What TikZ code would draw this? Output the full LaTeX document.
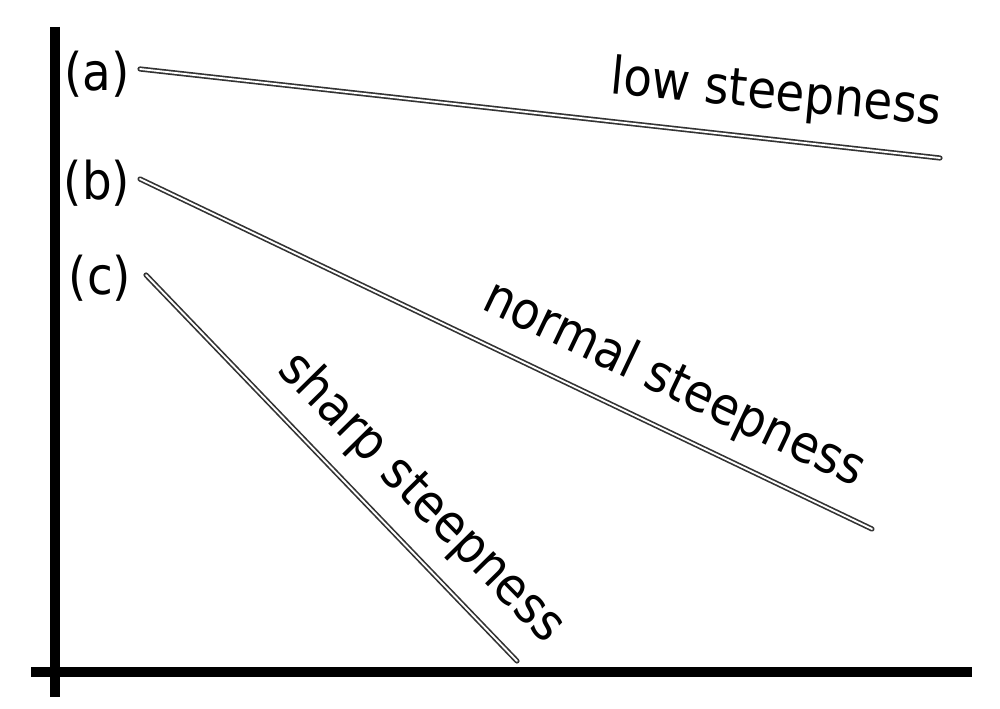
\documentclass[tikz,border=0pt]{standalone}
\usepackage{fontspec}
\setmainfont{DejaVu Sans Condensed}
\begin{document}
\begin{tikzpicture}[x=0.75pt,y=-0.75pt,
  axis/.style={line width=7pt,black},
  slope/.style={draw=black!80,line width=1.25pt,double=white,double distance=1.4pt,line cap=round},
  lbl/.style={inner sep=0pt,font=\fontsize{39}{47}\selectfont}]
\useasboundingbox[fill=white] (0,0) rectangle (1000,709);
% axes
\coordinate (yt) at (55,27);
\coordinate (yb) at (55,697);
\coordinate (xl) at (31,672);
\coordinate (xr) at (972,672);
\draw[axis] (yt) -- (yb);
\draw[axis,line cap=butt] (xl) -- (xr);
% slope lines
\coordinate (a1) at (140,69);
\coordinate (a2) at (940,158);
\coordinate (b1) at (140,179);
\coordinate (b2) at (872,529);
\coordinate (c1) at (146,275);
\coordinate (c2) at (517,661);
\draw[slope] (a1) -- (a2);
\draw[slope] (b1) -- (b2);
\draw[slope] (c1) -- (c2);
% labels
\node[lbl] (la) at (97,74) {(a)};
\node[lbl] (lb) at (97,183) {(b)};
\node[lbl] (lc) at (100,278) {(c)};
\node[lbl,rotate=-5.5] (ta) at (776,95) {low steepness};
\node[lbl,rotate=-25.5] (tb) at (674,385) {normal steepness};
\node[lbl,rotate=-45.5] (tc) at (421,498) {sharp steepness};
\end{tikzpicture}
\end{document}
